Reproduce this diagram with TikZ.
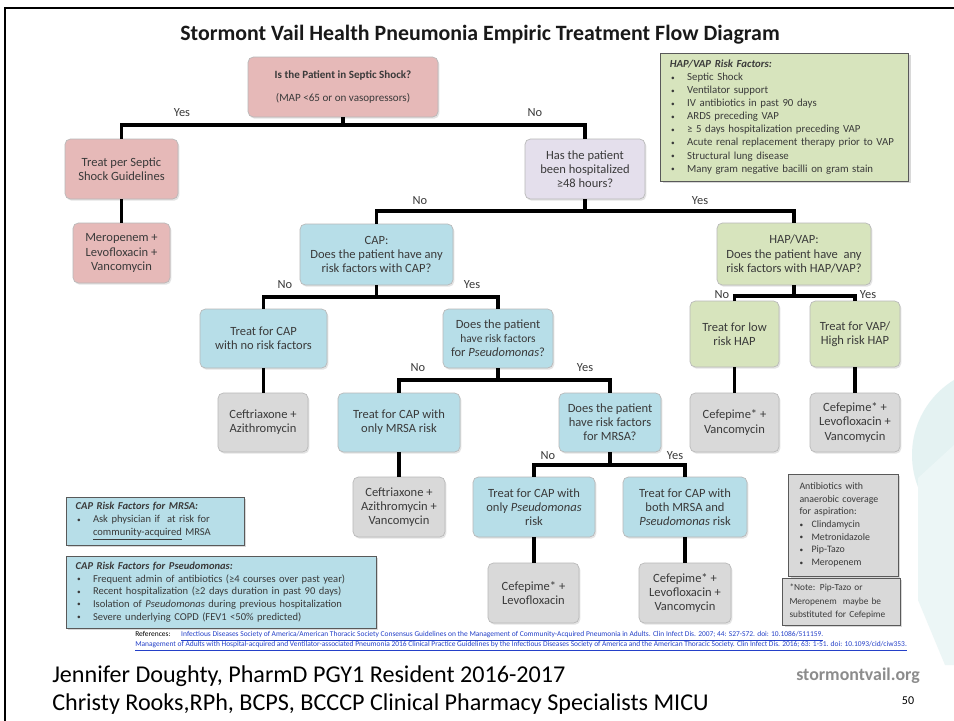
\documentclass[tikz,border=0pt]{standalone}
\usepackage{fontspec}
\setmainfont{Carlito}
\usetikzlibrary{shadows}
\definecolor{pinkf}{HTML}{E6B9B8}
\definecolor{lavf}{HTML}{E4DFEC}
\definecolor{bluef}{HTML}{B7DEE8}
\definecolor{greenf}{HTML}{D7E4BD}
\definecolor{greyf}{HTML}{D9D9D9}
\definecolor{txt}{HTML}{3A3A3A}
\definecolor{wm}{HTML}{E4F2F2}
\definecolor{linkc}{HTML}{2440C8}
\newcommand\pbox[7]{\node[#2, minimum width={(#5-#3)*0.75pt}, minimum height={(#6-#4)*0.75pt}] (#1) at ({(#3+#5)/2},{(#4+#6)/2}) {#7};}
\newcommand\sbul{\raisebox{0.1ex}{\fontsize{5.5}{6}\selectfont\textbullet}}
\newcommand\bi[1]{\hspace*{1pt}\makebox[12pt][l]{\sbul}#1}
\newcommand\bj[1]{\makebox[9pt][l]{\sbul}#1}
\tikzset{
 box/.style={draw=black!28, line width=0.5pt, rounded corners=4pt, align=center, text=txt,
   font=\fontsize{9.4}{10.6}\selectfont, inner sep=1pt,
   drop shadow={opacity=0.22, shadow xshift=1pt, shadow yshift=-1.3pt}},
 pinkbox/.style={box, fill=pinkf},
 lavbox/.style={box, fill=lavf},
 bluebox/.style={box, fill=bluef},
 greenbox/.style={box, fill=greenf},
 greybox/.style={box, fill=greyf},
 infobox/.style={draw=black!65, line width=0.6pt, align=left, text=txt,
   font=\fontsize{8.1}{9.8}\selectfont, inner ysep=2pt,
   drop shadow={opacity=0.3, shadow xshift=1.5pt, shadow yshift=-1.5pt}},
 conn/.style={line width=2.3pt, black},
 lbl/.style={font=\fontsize{9.3}{10}\selectfont, text=txt, inner sep=0pt},
}
\begin{document}
\begin{tikzpicture}[x=0.75pt,y=-0.75pt]
\useasboundingbox (0,0) rectangle (954,721);
\fill[white] (0,0) rectangle (954,721);
% watermark
\fill[wm] (1000,455) circle (88);
\fill[wm!70] (918,478) -- (954,445) -- (954,665) -- (945,665) -- (918,600) -- cycle;
% frame
\draw[line width=1.6pt] (5,721) -- (5,8) -- (954,8);
% title
\node[font=\bfseries\fontsize{16.4}{19}\selectfont, text=black!90] (title) at (480,35) {Stormont Vail Health Pneumonia Empiric Treatment Flow Diagram};

% boxes
\pbox{sep}{pinkbox, font=\fontsize{8.3}{17}\selectfont}{248}{57}{438}{117}{\textbf{Is the Patient in Septic Shock?}\\(MAP <65 or on vasopressors)}
\pbox{tsep}{pinkbox}{65}{139}{178}{199}{Treat per Septic\\Shock Guidelines}
\pbox{mero}{pinkbox}{73}{223}{170}{283}{Meropenem +\\Levofloxacin +\\Vancomycin}
\pbox{hosp}{lavbox}{525}{139}{645}{199}{Has the patient\\been hospitalized\\≥48 hours?}
\pbox{cap}{bluebox}{300}{224}{453}{285}{CAP:\\Does the patient have any\\risk factors with CAP?}
\pbox{hap}{greenbox}{717}{223}{871}{285}{HAP/VAP:\\Does the patient have\ \ any\\risk factors with HAP/VAP?}
\pbox{tnr}{bluebox}{200}{309}{327}{368}{Treat for CAP\\with no risk factors}
\pbox{pq}{bluebox}{443}{309}{553}{368}{Does the patient\\{\fontsize{8.6}{10.6}\selectfont have risk factors}\\for \textit{Pseudomonas}?}
\pbox{cazi}{greybox}{218}{393}{308}{452}{Ceftriaxone +\\Azithromycin}
\pbox{tmrsa}{bluebox}{338}{393}{460}{452}{Treat for CAP with\\only MRSA risk}
\pbox{mq}{bluebox}{559}{393}{661}{452}{Does the patient\\have risk factors\\for MRSA?}
\pbox{caziv}{greybox}{353}{477}{445}{537}{Ceftriaxone +\\Azithromycin +\\Vancomycin}
\pbox{tps}{bluebox}{473}{477}{595}{537}{Treat for CAP with\\only \textit{Pseudomonas}\\risk}
\pbox{tboth}{bluebox}{623}{477}{747}{537}{Treat for CAP with\\both MRSA and\\\textit{Pseudomonas} risk}
\pbox{cl}{greybox}{488}{563}{579}{623}{Cefepime* +\\Levofloxacin}
\pbox{clv}{greybox}{639}{563}{731}{623}{Cefepime* +\\Levofloxacin +\\Vancomycin}
\pbox{thl}{greenbox}{690}{301}{779}{367}{Treat for low\\risk HAP}
\pbox{thh}{greenbox}{810}{301}{900}{367}{Treat for VAP/\\High risk HAP}
\pbox{cv}{greybox}{690}{393}{779}{452}{Cefepime* +\\Vancomycin}
\pbox{clv2}{greybox}{810}{393}{900}{452}{Cefepime* +\\Levofloxacin +\\Vancomycin}

% info boxes
\pbox{hrf}{infobox, fill=greenf, inner xsep=7pt, text width=172pt}{663}{53}{906}{181}{\textbf{\textit{HAP/VAP Risk Factors:}}\\
\bi{Septic Shock}\\ \bi{Ventilator support}\\ \bi{IV antibiotics in past 90 days}\\ \bi{ARDS preceding VAP}\\
\bi{≥ 5 days hospitalization preceding VAP}\\ \bi{Acute renal replacement therapy prior to VAP}\\
\bi{Structural lung disease}\\ \bi{Many gram negative bacilli on gram stain}}
\pbox{mrf}{infobox, fill=bluef, inner xsep=7pt, text width=119pt, font=\fontsize{7.9}{9.9}\selectfont}{66}{497}{244}{545}{\textbf{\textit{CAP Risk Factors for MRSA:}}\\
\bi{Ask physician if\ \ at risk for}\\ \hspace*{13pt}\underline{community-acquired} MRSA}
\pbox{prf}{infobox, fill=bluef, inner xsep=7pt, text width=218pt, font=\fontsize{7.9}{9.5}\selectfont}{66}{556}{376}{628}{\textbf{\textit{CAP Risk Factors for Pseudomonas:}}\\
\bi{Frequent admin of antibiotics (≥4 courses over past year)}\\
\bi{Recent hospitalization (≥2 days duration in past 90 days)}\\
\bi{Isolation of \textit{Pseudomonas} during previous hospitalization}\\
\bi{Severe underlying COPD (FEV1 <50\% predicted)}}
\pbox{anb}{infobox, fill=greyf, inner xsep=8pt, text width=66pt, font=\fontsize{7.4}{9.5}\selectfont}{789}{474}{898}{576}{Antibiotics with\\anaerobic coverage\\for aspiration:\\
\bj{Clindamycin}\\ \bj{Metronidazole}\\ \bj{Pip-Tazo}\\ \bj{Meropenem}}
\pbox{note}{infobox, fill=greyf, inner xsep=5pt, text width=78pt, font=\fontsize{7}{10}\selectfont}{783}{578}{900}{625}{*Note: Pip-Tazo or\\Meropenem\ \ maybe be\\substituted for Cefepime}

% bus coordinates
\coordinate (b1) at (0,125);
\coordinate (b2) at (0,211);
\coordinate (b3) at (0,297);
\coordinate (b4) at (0,380);
\coordinate (b5) at (0,465);
\coordinate (b6) at (0,296);

% connectors
\draw[conn] (sep.south) -- (sep.south |- b1);
\draw[conn] (tsep.north) |- (hosp.north |- b1) -- (hosp.north);
\draw[conn] (tsep.south) -- (tsep.south |- mero.north);
\draw[conn] (hosp.south) -- (hosp.south |- b2);
\draw[conn] (cap.north) |- (hap.north |- b2) -- (hap.north);
\draw[conn] (cap.south) -- (cap.south |- b3);
\draw[conn] (tnr.north) |- (pq.north |- b3) -- (pq.north);
\draw[conn] (tnr.south) -- (tnr.south |- cazi.north);
\draw[conn] (pq.south) -- (pq.south |- b4);
\draw[conn] (tmrsa.north) |- (mq.north |- b4) -- (mq.north);
\draw[conn] (tmrsa.south) -- (tmrsa.south |- caziv.north);
\draw[conn] (mq.south) -- (mq.south |- b5);
\draw[conn] (tps.north) |- (tboth.north |- b5) -- (tboth.north);
\draw[conn] (tps.south) -- (tps.south |- cl.north);
\draw[conn] (tboth.south) -- (tboth.south |- clv.north);
\draw[conn] (hap.south) -- (hap.south |- b6);
\draw[conn] (thl.north) |- (thh.north |- b6) -- (thh.north);
\draw[conn] (thl.south) -- (thl.south |- cv.north);
\draw[conn] (thh.south) -- (thh.south |- clv2.north);

% labels
\node[lbl] (l1) at (182,113) {Yes};
\node[lbl] (l2) at (535,113) {No};
\node[lbl] (l3) at (420,201) {No};
\node[lbl] (l4) at (700,201) {Yes};
\node[lbl] (l5) at (285,285) {No};
\node[lbl] (l6) at (472,285) {Yes};
\node[lbl] (l7) at (418,368) {No};
\node[lbl] (l8) at (585,368) {Yes};
\node[lbl] (l9) at (548,456) {No};
\node[lbl] (l10) at (675,456) {Yes};
\node[lbl] (l11) at (722,295) {No};
\node[lbl] (l12) at (868,295) {Yes};

% references
\node[anchor=west, font=\fontsize{5.6}{6}\selectfont, inner sep=0pt] (ref1) at (135,636) {References:\hspace{8pt}\textcolor{linkc}{\underline{Infectious Diseases Society of America/American Thoracic Society Consensus Guidelines on the Management of Community-Acquired Pneumonia in Adults. Clin Infect Dis. 2007; 44: S27-S72. doi: 10.1086/511159.}}};
\node[anchor=west, font=\fontsize{5.6}{6}\selectfont, inner sep=0pt, text=linkc] (ref2) at (135,646) {\underline{Management of Adults with Hospital-acquired and Ventilator-associated Pneumonia 2016 Clinical Practice Guidelines by the Infectious Diseases Society of America and the American Thoracic Society. Clin Infect Dis. 2016; 63: 1-51. doi: 10.1093/cid/ciw353.}};

% footer
\node[anchor=west, font=\fontsize{18.1}{20}\selectfont, inner sep=0pt] (f1) at (52,676) {Jennifer Doughty, PharmD PGY1 Resident 2016-2017};
\node[anchor=west, font=\fontsize{18.1}{20}\selectfont, inner sep=0pt] (f2) at (52,704) {Christy Rooks,RPh, BCPS, BCCCP Clinical Pharmacy Specialists MICU};
\node[anchor=east, font=\bfseries\fontsize{13.4}{15}\selectfont, text=black!45, inner sep=0pt] (web) at (920,676) {stormontvail.org};
\node[font=\fontsize{9}{10}\selectfont, inner sep=0pt] (pg) at (908,701) {50};
\end{tikzpicture}
\end{document}
